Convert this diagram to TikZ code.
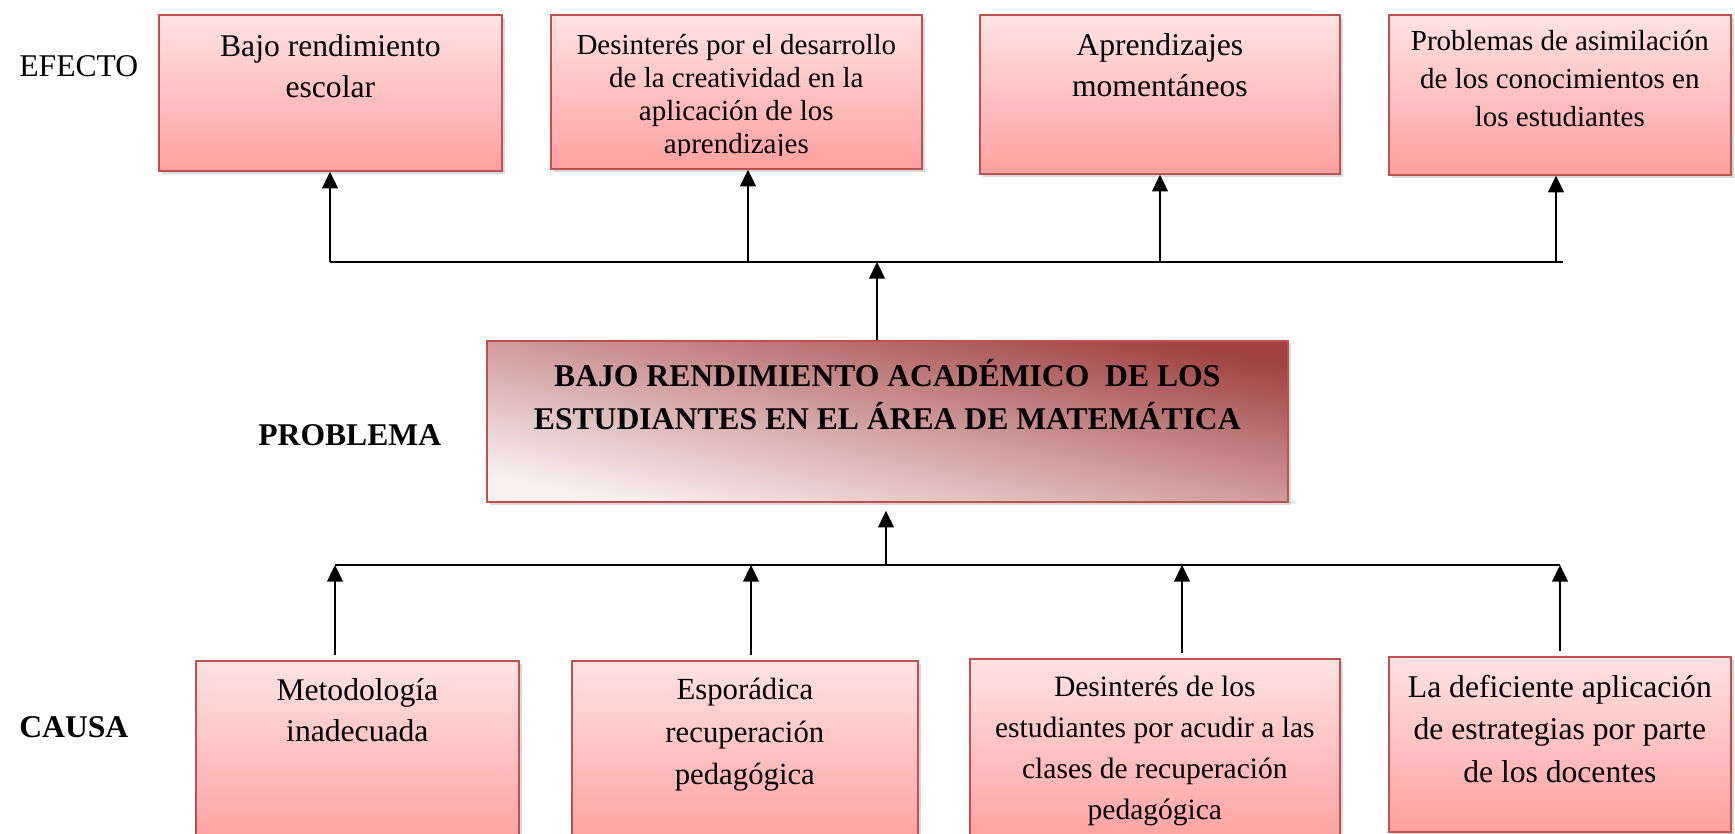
\documentclass[tikz,border=0pt]{standalone}
\usepackage{fontspec}
\setmainfont{Liberation Serif}
\usetikzlibrary{arrows.meta,shadows}

\definecolor{boxtop}{RGB}{255,226,226}
\definecolor{boxbot}{RGB}{255,160,160}
\definecolor{boxline}{RGB}{192,80,77}
\definecolor{probdark}{RGB}{160,66,66}
\definecolor{probmid}{RGB}{208,156,156}
\definecolor{problight}{RGB}{250,242,242}

\tikzset{
  redbox/.style={draw=boxline, line width=1pt, top color=boxtop, bottom color=boxbot,
    drop shadow={opacity=0.3, shadow xshift=2pt, shadow yshift=-2pt},
    anchor=north west, inner sep=0pt},
  probbox/.style={draw=boxline, line width=1pt, top color=probdark, bottom color=problight,
    middle color=probmid, shading angle=-11.4,
    drop shadow={opacity=0.3, shadow xshift=2pt, shadow yshift=-2pt},
    anchor=north west, inner sep=0pt},
  boxtext/.style={anchor=north, align=center, inner sep=0pt},
  rowlabel/.style={anchor=west, inner sep=0pt, font=\fontsize{18}{22}\selectfont},
  arr/.style={line width=1.1pt, -{Triangle[length=9.5pt,width=9pt]}},
  link/.style={line width=1.1pt}
}

\begin{document}
\begin{tikzpicture}[x=0.02cm, y=-0.02cm]
  \useasboundingbox (0,0) rectangle (1735,833);
  % row labels
  \node[rowlabel] (efecto) at (19,66) {EFECTO};
  \node[rowlabel, font=\fontsize{18}{22}\selectfont\bfseries] (problema) at (258,435) {PROBLEMA};
  \node[rowlabel, font=\fontsize{18}{22}\selectfont\bfseries] (causa) at (19,727) {CAUSA};

  % effects
  \node[redbox, minimum width=6.86cm, minimum height=3.12cm] (e1) at (158,14) {};
  \node[redbox, minimum width=7.42cm, minimum height=3.08cm] (e2) at (550,14) {};
  \node[redbox, minimum width=7.20cm, minimum height=3.18cm] (e3) at (979,14) {};
  \node[redbox, minimum width=6.84cm, minimum height=3.20cm] (e4) at (1388,14) {};
  \node[boxtext, font=\fontsize{18}{23.2}\selectfont] (e1t) at ([yshift=-0.40cm]e1.north)
       {Bajo rendimiento\\escolar};
  \begin{scope}
    \clip (550,14) rectangle (921,155);
    \node[boxtext, font=\fontsize{16.5}{18.7}\selectfont] (e2t) at ([yshift=-0.40cm]e2.north)
         {Desinterés por el desarrollo\\de la creatividad en la\\aplicación de los\\aprendizajes};
  \end{scope}
  \node[boxtext, font=\fontsize{18}{23.2}\selectfont] (e3t) at ([yshift=-0.38cm]e3.north)
       {Aprendizajes\\momentáneos};
  \node[boxtext, font=\fontsize{16.5}{21.5}\selectfont] (e4t) at ([yshift=-0.32cm]e4.north)
       {Problemas de asimilación\\de los conocimientos en\\los estudiantes};

  % problem
  \node[probbox, minimum width=16.02cm, minimum height=3.22cm] (p) at (486,340) {};
  \node[boxtext, font=\fontsize{18}{24.4}\selectfont\bfseries] (pt) at ([yshift=-0.38cm]p.north)
       {BAJO RENDIMIENTO ACADÉMICO \ DE LOS\\ESTUDIANTES EN EL ÁREA DE MATEMÁTICA};

  % causes
  \node[redbox, minimum width=6.46cm, minimum height=3.70cm] (c1) at (195,660) {};
  \node[redbox, minimum width=6.92cm, minimum height=3.70cm] (c2) at (571,660) {};
  \node[redbox, minimum width=7.40cm, minimum height=3.74cm] (c3) at (969,658) {};
  \node[redbox, minimum width=6.84cm, minimum height=3.50cm] (c4) at (1388,656) {};
  \node[boxtext, font=\fontsize{18}{23.2}\selectfont] (c1t) at ([yshift=-0.36cm]c1.north)
       {Metodología\\inadecuada};
  \node[boxtext, font=\fontsize{17.5}{24.1}\selectfont] (c2t) at ([yshift=-0.36cm]c2.north)
       {Esporádica\\recuperación\\pedagógica};
  \node[boxtext, font=\fontsize{16.8}{23.2}\selectfont] (c3t) at ([yshift=-0.36cm]c3.north)
       {Desinterés de los\\estudiantes por acudir a las\\clases de recuperación\\pedagógica};
  \node[boxtext, font=\fontsize{18}{24.1}\selectfont] (c4t) at ([yshift=-0.38cm]c4.north)
       {La deficiente aplicación\\de estrategias por parte\\de los docentes};

  % upper connectors
  \coordinate (ta) at (330,262);
  \coordinate (tb) at (748,262);
  \coordinate (tc) at (1160,262);
  \coordinate (td) at (1556,262);
  \coordinate (tend) at (1563,262);
  \coordinate (tm) at (877,262);
  \draw[link] (ta) -- (tend);
  \draw[arr] (ta) -- (ta |- e1.south);
  \draw[arr] (tb) -- (tb |- e2.south);
  \draw[arr] (tc) -- (tc |- e3.south);
  \draw[arr] (td) -- (td |- e4.south);
  \draw[arr] (tm |- p.north) -- (tm);

  % lower connectors
  \coordinate (ba) at (335,565);
  \coordinate (bb) at (751,565);
  \coordinate (bc) at (1182,565);
  \coordinate (bd) at (1560,565);
  \coordinate (bm) at (886,565);
  \draw[link] (ba) -- (bd);
  \draw[arr, shorten <=0.1cm] (ba |- c1.north) -- (ba);
  \draw[arr, shorten <=0.1cm] (bb |- c2.north) -- (bb);
  \draw[arr, shorten <=0.1cm] (bc |- c3.north) -- (bc);
  \draw[arr, shorten <=0.1cm] (bd |- c4.north) -- (bd);
  \draw[arr, shorten >=0.16cm] (bm) -- (bm |- p.south);
\end{tikzpicture}
\end{document}
